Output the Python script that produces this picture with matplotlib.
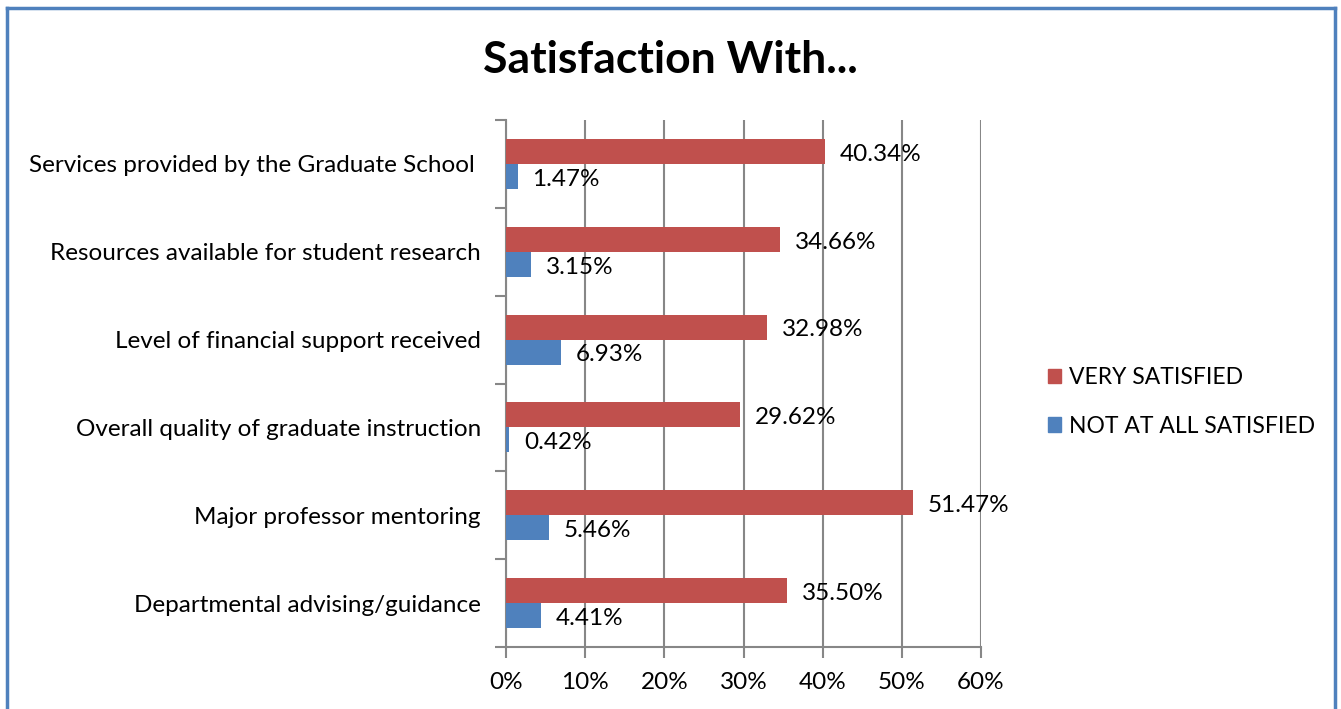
import matplotlib.pyplot as plt
import numpy as np
from matplotlib.lines import Line2D
from matplotlib.patches import Patch

# Chart data (top to bottom as shown)
categories = ['Services provided by the Graduate School ',
              'Resources available for student research',
              'Level of financial support received',
              'Overall quality of graduate instruction',
              'Major professor mentoring',
              'Departmental advising/guidance']
very_satisfied = [40.34, 34.66, 32.98, 29.62, 51.47, 35.50]
not_satisfied = [1.47, 3.15, 6.93, 0.42, 5.46, 4.41]
x_ticks = [0, 10, 20, 30, 40, 50, 60]

red = '#C0504D'
blue = '#4F81BD'
grid_col = '#878787'
fs = 17.5

plt.rcParams['font.family'] = ['Lato', 'DejaVu Sans']

fig = plt.figure(figsize=(13.41, 7.09), dpi=100)
ax = fig.add_axes([506 / 1341, 1 - 647 / 709, 475 / 1341, 527 / 709])

y = np.arange(len(categories))
h = 0.285

ax.barh(y - h / 2, very_satisfied, height=h, color=red, zorder=3)
ax.barh(y + h / 2, not_satisfied, height=h, color=blue, zorder=3)

# Value labels next to bar ends
for yi, v in zip(y, very_satisfied):
    ax.annotate(f'{v:.2f}%', xy=(v, yi - h / 2), xytext=(10.5, -2), textcoords='offset points',
                ha='left', va='center', fontsize=fs, zorder=4)
for yi, v in zip(y, not_satisfied):
    ax.annotate(f'{v:.2f}%', xy=(v, yi + h / 2), xytext=(10.5, -2), textcoords='offset points',
                ha='left', va='center', fontsize=fs, zorder=4)

ax.set_xlim(0, 60)
ax.set_ylim(len(categories) - 0.5, -0.5)
ax.set_xticks(x_ticks)
ax.set_xticklabels([f'{t}%' for t in x_ticks], fontsize=fs)
ax.set_yticks(y)
ax.set_yticklabels(categories, fontsize=fs)
ax.set_yticks(np.arange(len(categories) + 1) - 0.5, minor=True)

# Axis and tick styling
ax.tick_params(axis='y', which='major', length=0, pad=18)
ax.tick_params(axis='y', which='minor', length=8, width=1.5, color=grid_col)
ax.tick_params(axis='x', which='major', length=8, width=1.5, color=grid_col, pad=10)
ax.xaxis.grid(True, color=grid_col, linewidth=1.5, zorder=0)
ax.set_axisbelow(True)
for side in ['top', 'right']:
    ax.spines[side].set_visible(False)
for side in ['left', 'bottom']:
    ax.spines[side].set_color(grid_col)
    ax.spines[side].set_linewidth(1.5)

fig.text(670 / 1341, 1 - 60 / 709, 'Satisfaction With...', ha='center', va='center',
         fontsize=32, fontweight='bold')

handles = [Patch(color=red, label='VERY SATISFIED'),
           Patch(color=blue, label='NOT AT ALL SATISFIED')]
fig.legend(handles=handles, loc='center left', bbox_to_anchor=(1027 / 1341, 1 - 402 / 709),
           frameon=False, fontsize=16.5, handlelength=0.6, handleheight=0.6,
           handletextpad=0.35, labelspacing=1.2)

# Blue chart border (bottom edge is cut off in the original)
bc = blue
fig.add_artist(Line2D([7 / 1341, 7 / 1341], [0, 1 - 8 / 709], color=bc, linewidth=2.5))
fig.add_artist(Line2D([7 / 1341, 1335 / 1341], [1 - 8 / 709, 1 - 8 / 709], color=bc, linewidth=2.5))
fig.add_artist(Line2D([1335 / 1341, 1335 / 1341], [0, 1 - 8 / 709], color=bc, linewidth=2.5))

fig.savefig('out.png', dpi=100)
